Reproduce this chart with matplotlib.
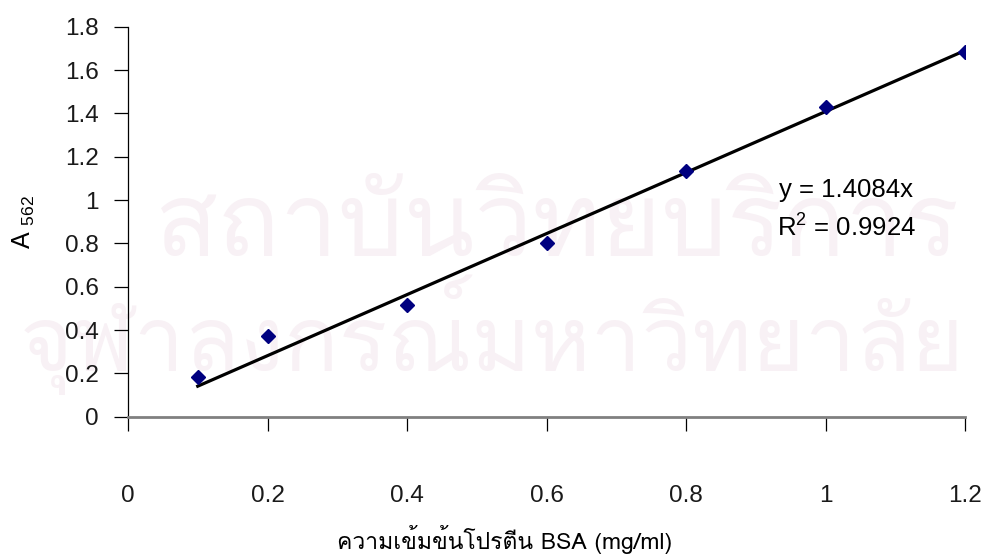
import matplotlib
matplotlib.use("Agg")
import matplotlib.pyplot as plt
from matplotlib import font_manager
from matplotlib.ft2font import FT2Font

# BSA standard curve (absorbance at 562 nm)
conc = [0.1, 0.2, 0.4, 0.6, 0.8, 1.0, 1.2]
absorbance = [0.185, 0.374, 0.515, 0.80, 1.135, 1.428, 1.684]
slope = 1.4084
r_squared = 0.9924
x_ticks = [0, 0.2, 0.4, 0.6, 0.8, 1.0, 1.2]
x_tick_labels = ["0", "0.2", "0.4", "0.6", "0.8", "1", "1.2"]
y_ticks = [0, 0.2, 0.4, 0.6, 0.8, 1.0, 1.2, 1.4, 1.6, 1.8]
y_tick_labels = ["0", "0.2", "0.4", "0.6", "0.8", "1", "1.2", "1.4", "1.6", "1.8"]
x_label = "ความเข้มข้นโปรตีน BSA (mg/ml)"
watermark_lines = ["สถาบันวิทยบริการ", "จุฬาลงกรณ์มหาวิทยาลัย"]


def find_font_with(codepoint):
    for f in font_manager.fontManager.ttflist:
        try:
            cmap = FT2Font(f.fname).get_charmap()
        except Exception:
            continue
        if codepoint in cmap:
            return f.name
    return None


thai_font = find_font_with(0x0E04)
latin_font = "Liberation Sans"
label_family = [thai_font, latin_font] if thai_font else [latin_font]

plt.rcParams["font.family"] = latin_font
plt.rcParams["mathtext.fontset"] = "custom"
plt.rcParams["mathtext.rm"] = latin_font

W, H = 988, 555
fig = plt.figure(figsize=(W / 100, H / 100), dpi=100)
ax = fig.add_axes([128 / W, 1 - 416.7 / H, (965 - 128) / W, (416.7 - 26.7) / H])
ax.set_facecolor("none")
renderer = fig.canvas.get_renderer()


def watermark(text, left, right, baseline):
    t = fig.text(left / W, 1 - baseline / H, text, family=label_family,
                 fontsize=60, color="#f8f1f5", ha="left", va="baseline",
                 zorder=-1)
    bb = t.get_window_extent(renderer)
    t.set_fontsize(60 * (right - left) / bb.width)
    return t


# faint background watermark
watermark(watermark_lines[0], 155, 960, 256)
watermark(watermark_lines[1], 20, 965, 371)

ax.plot(conc, absorbance, linestyle="none", marker="D", markersize=7,
        color="#000080", zorder=3)
fit_x = [conc[0], conc[-1]]
fit_y = [slope * v for v in fit_x]
ax.plot(fit_x, fit_y, color="black", linewidth=2.3, zorder=2)

ax.set_xlim(0, 1.2)
ax.set_ylim(0, 1.8)
ax.set_xticks(x_ticks)
ax.set_xticklabels(x_tick_labels)
ax.set_yticks(y_ticks)
ax.set_yticklabels(y_tick_labels)
ax.tick_params(axis="both", direction="out", length=10, width=0.9,
               color="black", labelsize=17.5, labelcolor="#1a1a1a")
ax.tick_params(axis="y", pad=11)
ax.tick_params(axis="x", pad=39)

for side in ("top", "right"):
    ax.spines[side].set_visible(False)
ax.spines["left"].set_color("black")
ax.spines["left"].set_linewidth(0.9)
ax.spines["bottom"].set_color("#808080")
ax.spines["bottom"].set_linewidth(2)

fig.text(846 / W, 1 - 190 / H, f"y = {slope}x", fontsize=18.5,
         ha="center", va="center", color="black")
fig.text(846 / W, 1 - 228 / H, f"R$\\mathregular{{^2}}$ = {r_squared}",
         fontsize=18.5, ha="center", va="center", color="black")

fig.text(24 / W, 1 - 222 / H, "A $\\mathregular{_{562}}$", rotation=90,
         fontsize=18, ha="center", va="center", color="black")
fig.text(505 / W, 1 - 539 / H, x_label, family=label_family, fontsize=16.5,
         ha="center", va="center", color="black")

fig.savefig("out.png", dpi=100)
